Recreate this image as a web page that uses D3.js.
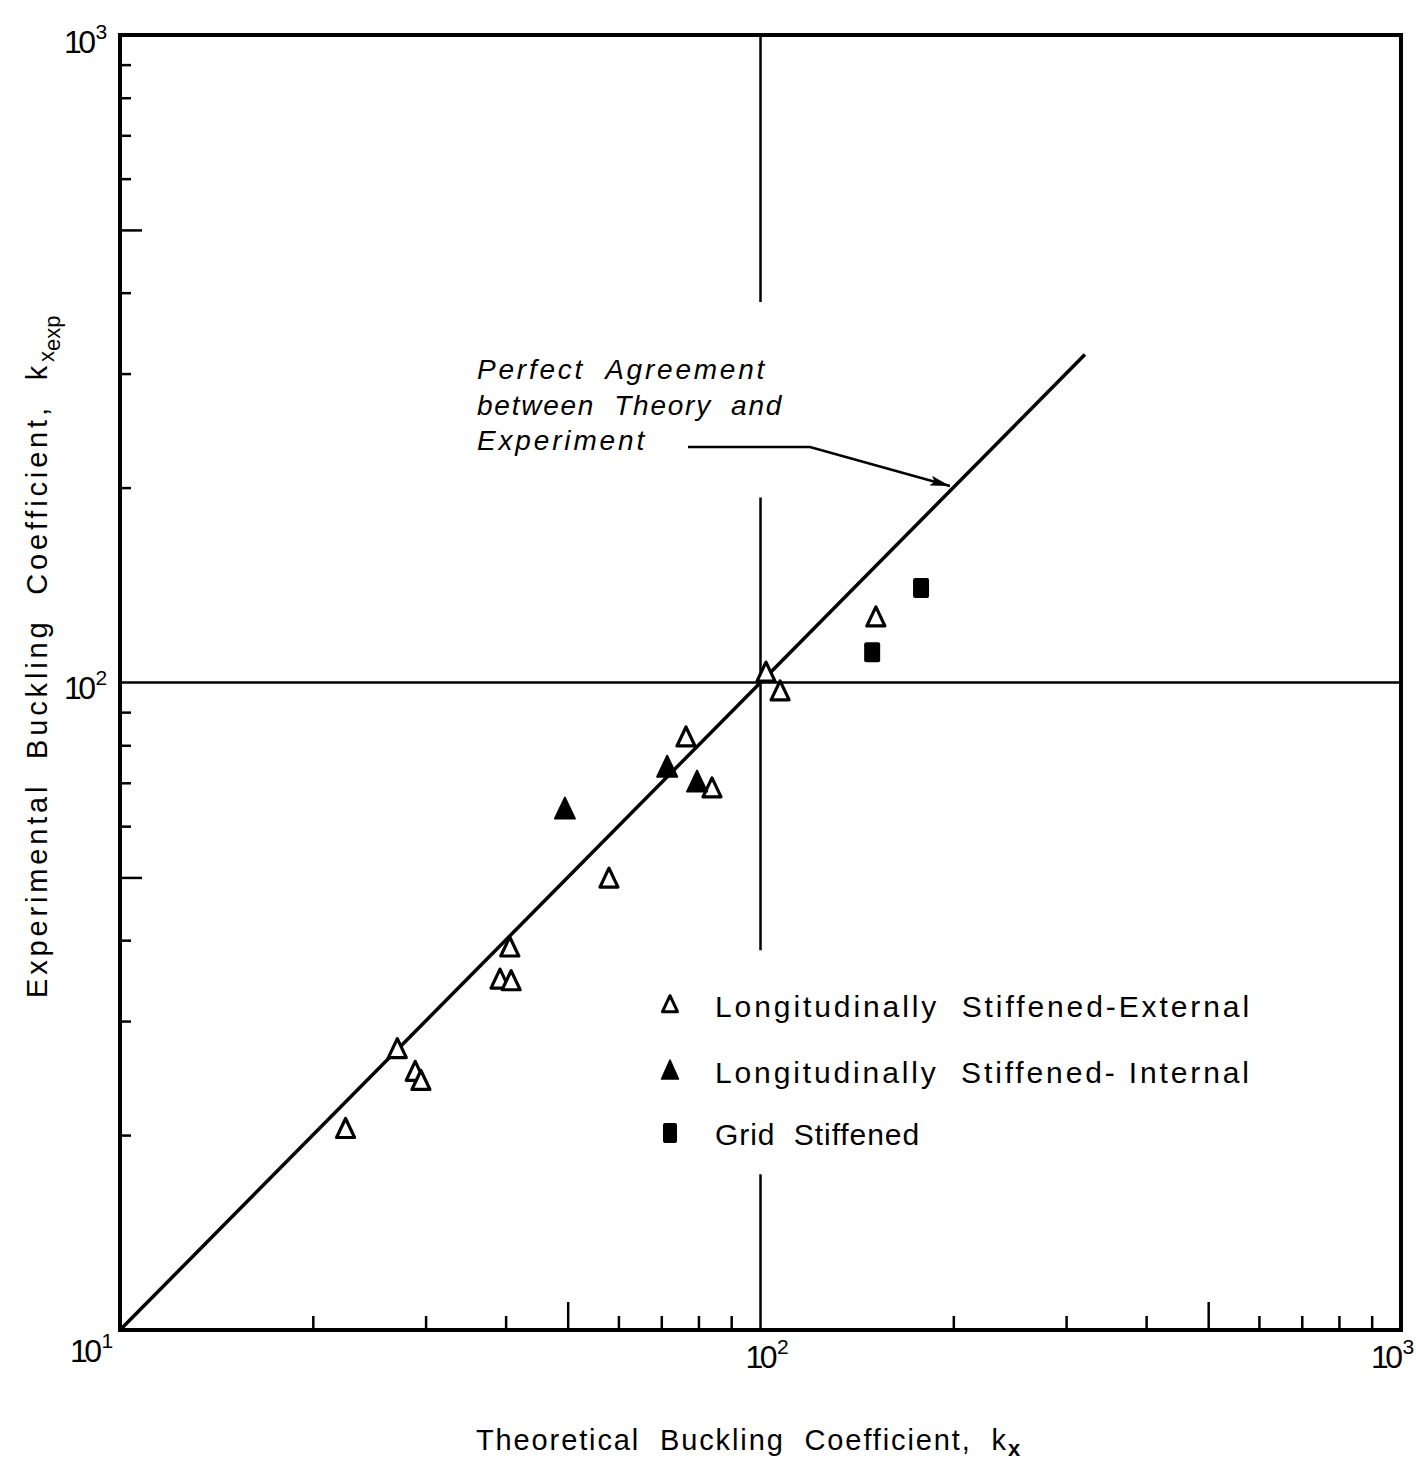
<!DOCTYPE html>
<html>
<head>
<meta charset="utf-8">
<script src="https://cdn.jsdelivr.net/npm/d3@7"></script>
<style>
  html, body { margin: 0; padding: 0; background: #fff; }
  svg { display: block; }
  text { font-family: "Liberation Sans", Arial, sans-serif; fill: #000; }
</style>
</head>
<body>
<svg id="chart" width="1416" height="1464"></svg>
<script>
// ---------------- data ----------------
const externalX = [22.5, 27.1, 28.9, 29.5, 39.2, 40.8, 40.6, 58.0, 76.5, 84.0, 102.0, 107.3, 151.4];
const externalY = [20.4, 27.1, 25.0, 24.2, 34.7, 34.5, 38.9, 49.7, 82.1, 68.5, 103.4, 96.7, 125.8];

const internalX = [49.5, 71.5, 79.6];
const internalY = [63.6, 73.8, 70.0];

const gridX = [149.4, 178.1];
const gridY = [111.4, 140.0];

const agreementLine = [10, 321];          // y = x from 10 to ~321
const crossVerticalSegments = [[1000, 387], [193, 38.6], [17.4, 10]]; // x = 100 line pieces (y ranges)
const crossHorizontal = [10, 1000];       // y = 100 line (x range)

const minorTicks = [20, 30, 40, 60, 70, 80, 90, 200, 300, 400, 600, 700, 800, 900];
const midTicks = [50, 500];
const decadeLabels = [{base: "10", exp: "1", v: 10}, {base: "10", exp: "2", v: 100}, {base: "10", exp: "3", v: 1000}];

const legendLabels = ["Longitudinally  Stiffened-External", "Longitudinally  Stiffened- Internal", "Grid  Stiffened"];
const annotationLines = ["Perfect  Agreement", "between  Theory  and", "Experiment"];
const xTitle = "Theoretical  Buckling  Coefficient,  k";
const yTitle = "Experimental  Buckling  Coefficient,  k";

// ---------------- layout ----------------
const svg = d3.select("#chart");
const L = 120, R = 1401, T = 35, B = 1330;
const x = d3.scaleLog().domain([10, 1000]).range([L, R]);
const y = d3.scaleLog().domain([10, 1000]).range([B, T]);

// fit a text (or tspan) to a target width with letter-spacing
function fitSpacing(sel, target) {
  const n = sel.text().length;
  const w = sel.node().getComputedTextLength();
  sel.attr("letter-spacing", ((target - w) / n).toFixed(2));
}

// ticks via d3 axes (inward)
function addBottom(vals, len) {
  const g = svg.append("g").attr("transform", `translate(0,${B})`)
    .call(d3.axisBottom(x).tickValues(vals).tickSize(-len).tickFormat(""));
  g.select(".domain").remove();
  g.selectAll("line").attr("stroke", "#000").attr("stroke-width", 2.5);
}
function addLeft(vals, len) {
  const g = svg.append("g").attr("transform", `translate(${L},0)`)
    .call(d3.axisLeft(y).tickValues(vals).tickSize(-len).tickFormat(""));
  g.select(".domain").remove();
  g.selectAll("line").attr("stroke", "#000").attr("stroke-width", 2.5);
}
addBottom(minorTicks, 14);
addBottom(midTicks, 28);
addLeft(minorTicks, 11);
addLeft(midTicks, 22);

// cross lines at 100
svg.append("line")
  .attr("x1", x(crossHorizontal[0])).attr("x2", x(crossHorizontal[1]))
  .attr("y1", y(100)).attr("y2", y(100))
  .attr("stroke", "#000").attr("stroke-width", 2.5);
svg.selectAll("line.vseg").data(crossVerticalSegments).enter().append("line")
  .attr("class", "vseg")
  .attr("x1", x(100)).attr("x2", x(100))
  .attr("y1", d => y(d[0])).attr("y2", d => y(d[1]))
  .attr("stroke", "#000").attr("stroke-width", 2.5);

// perfect agreement line
svg.append("line")
  .attr("x1", x(agreementLine[0])).attr("y1", y(agreementLine[0]))
  .attr("x2", x(agreementLine[1])).attr("y2", y(agreementLine[1]))
  .attr("stroke", "#000").attr("stroke-width", 3.5);

// frame
svg.append("rect").attr("x", L).attr("y", T).attr("width", R - L).attr("height", B - T)
  .attr("fill", "none").attr("stroke", "#000").attr("stroke-width", 4);

// markers
function triPath(cx, cy, w, h) {
  return `M${cx},${cy - h * 0.58}L${cx + w / 2},${cy + h * 0.42}L${cx - w / 2},${cy + h * 0.42}Z`;
}
const ext = externalX.map((v, i) => [v, externalY[i]]);
const intl = internalX.map((v, i) => [v, internalY[i]]);
const grid = gridX.map((v, i) => [v, gridY[i]]);

svg.selectAll("path.ext").data(ext).enter().append("path")
  .attr("class", "ext")
  .attr("d", d => triPath(x(d[0]), y(d[1]), 18, 19))
  .attr("fill", "#fff").attr("stroke", "#000").attr("stroke-width", 3.2).attr("stroke-linejoin", "round");
svg.selectAll("path.int").data(intl).enter().append("path")
  .attr("class", "int")
  .attr("d", d => triPath(x(d[0]), y(d[1]), 20, 21))
  .attr("fill", "#000").attr("stroke", "#000").attr("stroke-width", 2).attr("stroke-linejoin", "round");
svg.selectAll("rect.grid").data(grid).enter().append("rect")
  .attr("class", "grid")
  .attr("x", d => x(d[0]) - 8).attr("y", d => y(d[1]) - 10)
  .attr("width", 16).attr("height", 20).attr("rx", 2)
  .attr("fill", "#000");

// legend
const legY = [1005, 1071, 1133];
const legW = [537, 537, 205];
const lg = svg.append("g");
lg.append("path").attr("d", triPath(670, legY[0], 15, 16))
  .attr("fill", "#fff").attr("stroke", "#000").attr("stroke-width", 3).attr("stroke-linejoin", "round");
lg.append("path").attr("d", triPath(670, legY[1], 17, 19))
  .attr("fill", "#000").attr("stroke", "#000").attr("stroke-width", 1.5).attr("stroke-linejoin", "round");
lg.append("rect").attr("x", 663).attr("y", legY[2] - 10).attr("width", 14).attr("height", 20).attr("rx", 2).attr("fill", "#000");
legendLabels.forEach((t, i) => {
  const tx = lg.append("text").attr("x", 715).attr("y", legY[i] + 12)
    .attr("font-size", 30).style("white-space", "pre").text(t);
  fitSpacing(tx, legW[i]);
});

// annotation
const annW = [290, 306, 170];
annotationLines.forEach((t, i) => {
  const tx = svg.append("text").attr("x", 477).attr("y", 379 + i * 35.5)
    .attr("font-size", 28).attr("font-style", "italic")
    .style("white-space", "pre").text(t);
  fitSpacing(tx, annW[i]);
});
svg.append("defs").append("marker").attr("id", "arr")
  .attr("viewBox", "0 0 20 10").attr("refX", 20).attr("refY", 5)
  .attr("markerWidth", 20).attr("markerHeight", 10).attr("markerUnits", "userSpaceOnUse")
  .attr("orient", "auto")
  .append("path").attr("d", "M0,0L20,5L0,10L4,5Z").attr("fill", "#000");
svg.append("path").attr("d", "M688,447L810,447L950,486")
  .attr("fill", "none").attr("stroke", "#000").attr("stroke-width", 2.5)
  .attr("marker-end", "url(#arr)");

// decade labels (single text: "10" + superscript exponent)
function decadeLabel(px, py, d) {
  const t = svg.append("text").attr("x", px).attr("y", py).attr("font-size", 32);
  t.append("tspan").attr("letter-spacing", -3.5).text(d.base);
  t.append("tspan").attr("dx", 3).attr("dy", -14).attr("font-size", 21).text(d.exp);
}
decadeLabels.forEach(d => {
  const off = d.v === 10 ? -50 : d.v === 100 ? -15 : -30;
  decadeLabel(x(d.v) + off, B + 38 + (d.v === 10 ? -6 : 0), d);
});
decadeLabels.slice(1).forEach(d => {
  decadeLabel(64, y(d.v) + 16 + (d.v === 1000 ? 2 : 0), d);
});

// axis titles
const xt = svg.append("text").attr("x", 476).attr("y", 1450).attr("font-size", 29).style("white-space", "pre");
const xtMain = xt.append("tspan").text(xTitle);
fitSpacing(xtMain, 532);
xt.append("tspan").attr("dy", 6).attr("font-size", 22).attr("font-weight", "bold").attr("letter-spacing", 0).text("x");

const yt = svg.append("text").attr("transform", "translate(47,998) rotate(-90)")
  .attr("font-size", 29).style("white-space", "pre");
const ytMain = yt.append("tspan").text(yTitle);
fitSpacing(ytMain, 636);
yt.append("tspan").attr("dy", 7).attr("font-size", 22).attr("letter-spacing", 0).text("x");
yt.append("tspan").attr("dy", 6).attr("font-size", 22).attr("letter-spacing", 0).text("exp");
</script>
</body>
</html>
